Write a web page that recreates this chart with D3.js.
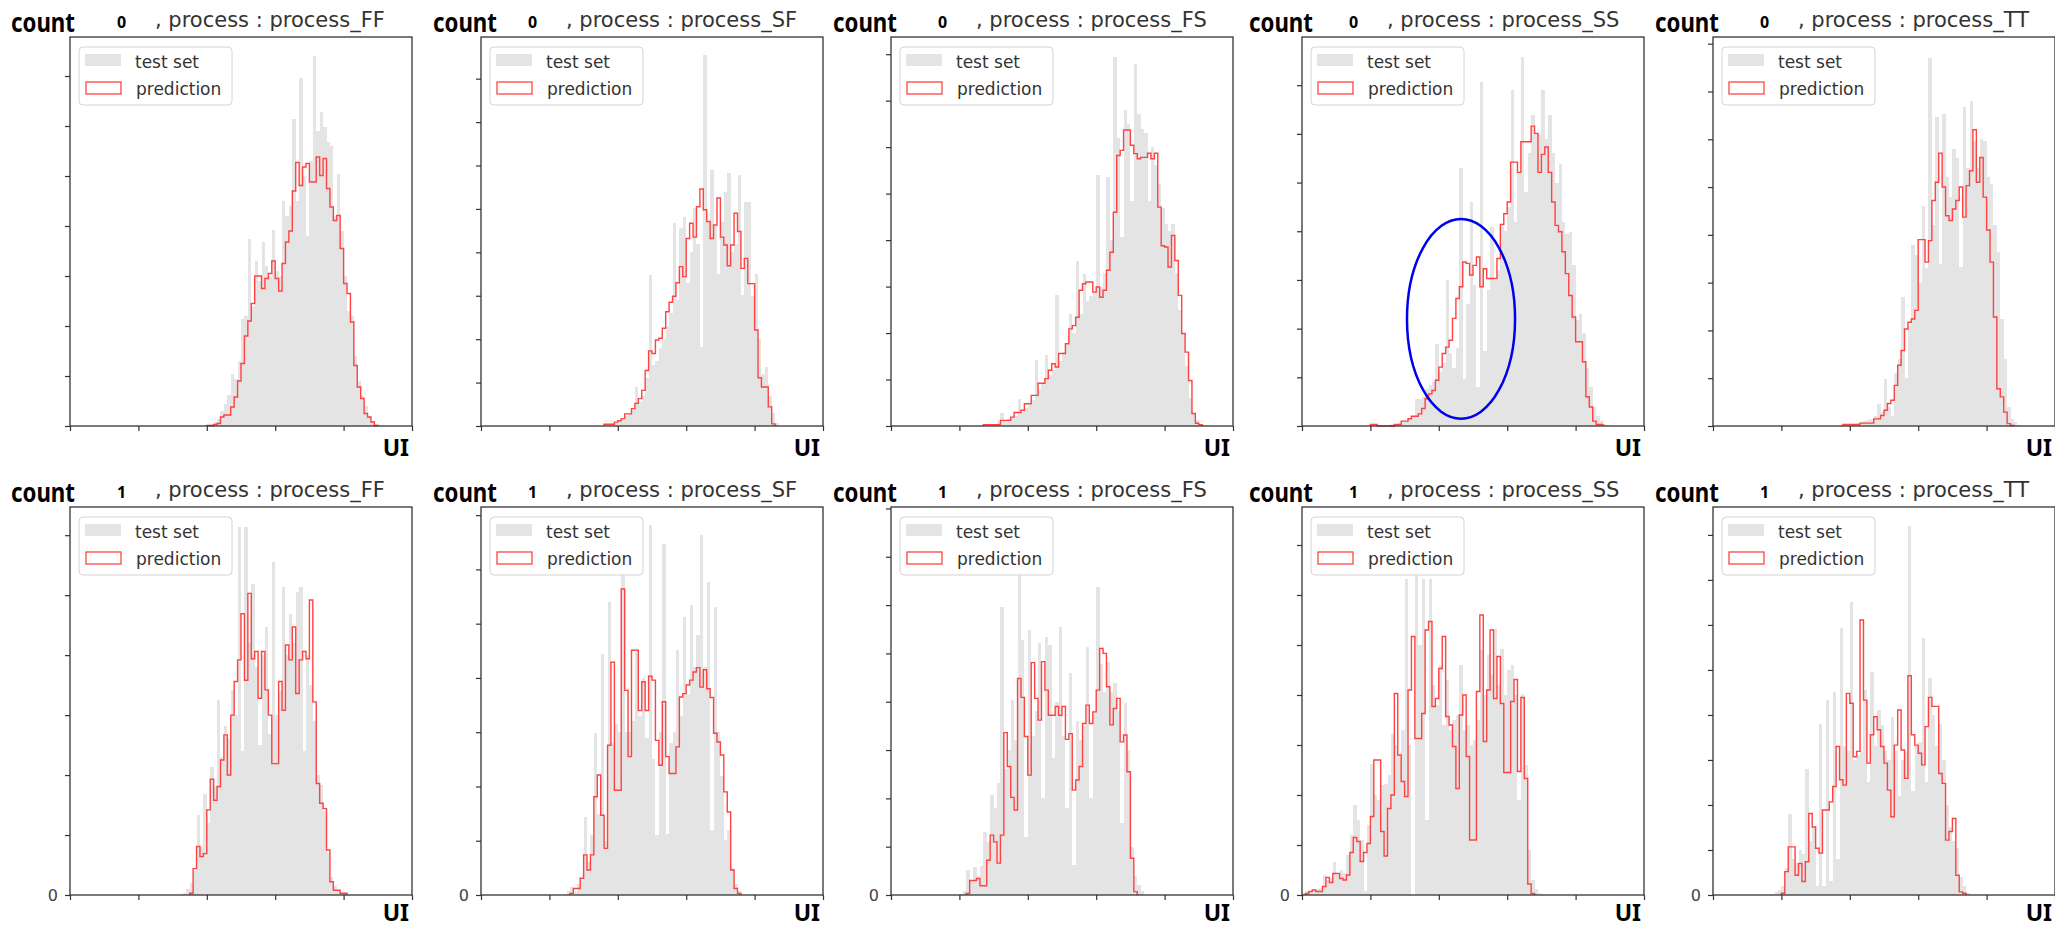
<!doctype html>
<html>
<head>
<meta charset="utf-8">
<script src="https://d3js.org/d3.v7.min.js"></script>
<style>
  body { margin: 0; background: #fff; }
  svg { display: block; }
  .title { font-family: "DejaVu Sans", sans-serif; font-size: 21px; fill: #333; }
  .bold { font-family: "Noto Sans", "Open Sans", sans-serif; font-weight: bold; fill: #000; }
  .legend text { font-family: "DejaVu Sans", sans-serif; font-size: 17px; fill: #333; }
  .axis text { font-family: "DejaVu Sans", sans-serif; font-size: 16px; fill: #444; }
  .axis line { stroke: #333; stroke-width: 1.2; }
</style>
</head>
<body>
<svg width="2055" height="929"></svg>
<script>
// ---------- data (bins on a 0..100 axis, counts on a 100-per-tick scale) ----------
var processes = ["process_FF", "process_SF", "process_FS", "process_SS", "process_TT"];
var countTypes = ["0", "1"];
var xTicks = [0, 20, 40, 60, 80, 100];
var binCount = 100;
var countStep = 100;
var countMax0 = [778, 896, 837, 799, 814];
var countMax1 = [647, 715, 803, 776, 862];

var testStart0 = [40, 36, 26, 20, 36];
var predStart0 = [40, 36, 27, 20, 38];
var testStart1 = [33, 25, 20, 0, 17];
var predStart1 = [35, 26, 22, 1, 20];

// count type 0
var testFF0 = [3,5,8,15,30,45,62,105,95,130,215,220,375,240,330,290,368,320,300,393,310,300,451,420,440,615,450,697,500,380,530,741,590,628,598,568,560,420,505,390,300,230,220,140,90,60,40,20,10,5,2];
var predFF0 = [1,1,3,5,18,22,22,38,58,90,125,180,210,245,300,300,275,295,305,330,295,270,325,368,390,470,527,481,518,525,488,488,538,501,535,475,438,411,421,355,285,265,208,121,78,55,25,18,8,1];
var testSF0 = [2,4,6,8,10,14,22,28,38,90,55,70,110,348,140,150,180,200,230,260,467,290,455,482,330,400,501,420,182,855,470,590,460,351,470,540,582,400,420,578,301,517,517,300,350,200,120,136,70,30,8];
var predSF0 = [4,4,4,9,12,17,28,28,40,52,63,82,128,173,167,198,202,225,263,285,299,330,367,344,432,467,435,505,546,498,471,432,463,525,435,417,369,417,490,448,363,386,328,328,221,111,90,90,44,5];
var testFS0 = [1,2,3,4,5,8,27,10,14,18,22,59,30,38,45,55,141,80,90,152,110,120,281,140,160,175,242,200,356,240,328,270,280,290,539,300,330,535,400,793,620,406,679,650,485,779,672,640,630,485,600,561,520,470,435,420,435,330,250,199,130,60,25,12,5,2];
var predFS0 = [3,3,3,3,3,12,12,12,19,29,29,34,48,48,66,66,92,92,102,120,134,127,156,156,177,209,216,234,292,306,310,310,288,299,277,292,335,374,460,582,593,637,637,604,586,575,578,578,587,575,587,471,388,385,342,410,356,281,199,159,98,27,6,3];
var testSS0 = [2,2,1,1,2,3,4,5,6,8,10,14,20,56,55,60,75,85,90,169,110,130,299,150,120,160,529,97,250,460,290,80,707,155,280,409,300,320,409,400,450,690,420,520,758,480,560,638,600,600,690,590,638,560,500,539,420,395,399,330,217,230,190,120,80,40,20,10,5,2];
var predSS0 = [3,3,0,0,0,0,0,3,3,10,10,15,20,20,25,36,56,66,73,94,121,149,162,176,221,262,286,337,334,310,330,347,286,323,303,303,303,344,414,436,460,542,542,521,584,584,584,616,601,521,558,573,521,460,412,399,358,313,268,224,173,173,132,60,39,10,3,3];
var testTT0 = [1,2,3,3,4,5,6,8,10,12,15,20,47,30,99,40,20,110,140,270,100,210,378,357,300,461,330,771,420,646,340,653,520,480,580,560,332,668,540,681,597,540,600,597,520,507,420,364,224,140,40,15,8,3];
var predTT0 = [3,3,3,3,3,6,6,6,6,15,15,22,33,47,54,85,127,158,203,217,224,242,390,390,343,388,472,510,571,500,440,430,454,472,500,437,503,534,620,510,562,479,410,343,228,78,61,29,5,1];

// count type 1
var testFF1 = [3,10,20,40,133,80,169,120,214,180,325,230,281,260,342,300,614,240,614,420,519,380,250,400,447,269,556,300,340,514,400,469,420,506,514,240,400,350,290,200,183,140,70,30,15,8,4,2];
var predFF1 = [3,44,81,64,69,142,193,158,181,225,267,200,300,356,392,469,358,503,394,406,328,406,342,300,219,219,356,308,417,392,447,336,392,406,394,492,322,186,153,144,75,22,8,8,3,3];
var testSF1 = [8,15,5,20,30,144,60,110,298,150,445,100,540,280,316,300,589,300,300,320,448,330,400,290,681,250,110,300,647,113,280,300,451,330,512,370,534,420,480,663,420,577,120,531,300,220,101,120,50,20,8];
var predSF1 = [3,12,12,31,74,46,74,181,221,147,86,276,429,193,193,564,377,255,451,451,340,393,340,403,396,285,239,356,255,224,224,273,365,371,387,396,411,419,383,415,380,364,298,282,258,190,153,46,12,3];
var testFS1 = [3,8,52,30,58,40,60,131,110,207,180,231,597,260,300,403,320,666,528,120,548,330,380,521,200,534,517,283,400,555,330,180,459,62,360,320,350,514,200,380,638,479,420,483,420,438,380,150,397,300,100,40,20,8];
var predFS1 = [3,30,30,34,19,19,72,124,110,66,124,336,266,202,176,448,409,328,248,481,407,362,483,424,372,372,390,372,390,322,334,217,238,266,355,393,355,379,424,510,500,431,352,386,407,317,331,255,76,7];
var testSS1 = [4,8,6,10,12,15,40,30,35,67,40,50,45,80,120,180,150,110,8,140,263,200,190,220,223,240,323,300,280,330,633,300,0,670,500,633,150,633,420,380,460,340,430,330,350,360,460,330,340,300,310,350,490,400,480,440,533,420,493,400,450,460,400,190,403,260,90,30,12,5,2];
var predSS1 = [3,7,10,7,7,17,35,25,43,43,33,30,40,85,115,107,67,85,103,157,270,270,127,78,173,200,403,280,227,197,410,517,313,313,363,530,547,377,393,453,517,357,340,297,213,360,400,277,110,110,407,560,307,410,530,393,477,383,245,245,387,431,247,395,233,22,3];
var testTT1 = [3,6,10,20,60,181,80,70,100,90,281,120,150,20,381,20,433,30,452,80,593,330,320,652,300,310,320,456,250,496,330,411,378,320,300,396,320,220,300,320,819,230,330,340,570,250,481,400,330,381,300,200,150,120,104,40,20,5];
var predTT1 = [4,52,107,107,44,70,30,74,181,151,104,93,189,189,207,241,330,256,244,448,426,307,319,611,433,293,356,396,367,330,293,233,174,333,411,322,259,487,356,333,315,289,374,439,419,419,270,248,122,141,170,44,7,4];

// highlighted region on the count 0 / process_SS panel (bin, count, radii)
var markBin = 46.5, markCount = 220, markBinR = 15.8, markCountR = 205;

var testSets = [[testFF0, testSF0, testFS0, testSS0, testTT0], [testFF1, testSF1, testFS1, testSS1, testTT1]];
var predSets = [[predFF0, predSF0, predFS0, predSS0, predTT0], [predFF1, predSF1, predFS1, predSS1, predTT1]];
var testStarts = [testStart0, testStart1];
var predStarts = [predStart0, predStart1];
var countMaxes = [countMax0, countMax1];

// ---------- layout ----------
var svg = d3.select("svg");
var panelW = 342;
var colX = [70, 481, 891, 1302, 1713];
var rowTop = [37, 507], rowBottom = [426, 895];
var titleY = [27, 497], uiY = [456, 921];
var countDx = [-59, -48, -58, -53, -58];

function drawPanel(row, col) {
  var left = colX[col], top = rowTop[row], h = rowBottom[row] - top;
  var g = svg.append("g").attr("transform", "translate(" + left + "," + top + ")");

  var x = d3.scaleLinear().domain([0, binCount]).range([0, panelW]);
  var y = d3.scaleLinear().domain([0, countMaxes[row][col]]).range([h, 0]);

  var test = testSets[row][col], tStart = testStarts[row][col];
  var pred = predSets[row][col], pStart = predStarts[row][col];

  // test set: filled bars
  g.append("g").attr("shape-rendering", "crispEdges")
    .selectAll("rect").data(test).enter().append("rect")
    .attr("x", function (d, i) { return x(tStart + i); })
    .attr("width", x(1) - x(0))
    .attr("y", function (d) { return y(d); })
    .attr("height", function (d) { return h - y(d); })
    .attr("fill", "#e4e4e4");

  // prediction: step outline
  var pts = [[pStart, 0]];
  pred.forEach(function (v, i) { pts.push([pStart + i, v]); });
  pts.push([pStart + pred.length, pred[pred.length - 1]]);
  pts.push([pStart + pred.length, 0]);
  var line = d3.line()
    .x(function (d) { return x(d[0]); })
    .y(function (d) { return y(d[1]); })
    .curve(d3.curveStepAfter);
  g.append("path").attr("d", line(pts))
    .attr("fill", "none").attr("stroke", "#ff4242").attr("stroke-width", 1.4);

  // axes
  var yTicks = d3.range(0, countMaxes[row][col], countStep);
  var yAxis = g.append("g").attr("class", "axis")
    .call(d3.axisLeft(y).tickValues(yTicks).tickSize(5).tickSizeOuter(0).tickPadding(7)
      .tickFormat(function (d) { return (row === 1 && d === 0) ? "0" : ""; }));
  yAxis.select(".domain").remove();
  var xAxis = g.append("g").attr("class", "axis").attr("transform", "translate(0," + h + ")")
    .call(d3.axisBottom(x).tickValues(xTicks).tickSize(5).tickSizeOuter(0).tickFormat(""));
  xAxis.select(".domain").remove();

  g.append("rect").attr("width", panelW).attr("height", h)
    .attr("fill", "none").attr("stroke", "#333").attr("stroke-width", 1.3);

  // legend
  var lg = g.append("g").attr("class", "legend").attr("transform", "translate(9,10)");
  lg.append("rect").attr("width", 153).attr("height", 58).attr("rx", 4)
    .attr("fill", "#fff").attr("fill-opacity", 0.85).attr("stroke", "#d4d4d4");
  lg.append("rect").attr("x", 6).attr("y", 7).attr("width", 36).attr("height", 12).attr("fill", "#e4e4e4");
  lg.append("rect").attr("x", 7).attr("y", 35).attr("width", 35).attr("height", 12)
    .attr("fill", "none").attr("stroke", "#ff4242").attr("stroke-width", 1.3);
  lg.append("text").attr("x", 56).attr("y", 21).text("test set");
  lg.append("text").attr("x", 57).attr("y", 48).text("prediction");

  // titles
  svg.append("text").attr("class", "bold").attr("x", left + countDx[col]).attr("y", titleY[row] + 5)
    .attr("font-size", 27).attr("textLength", 64).attr("lengthAdjust", "spacingAndGlyphs").text("count");
  svg.append("text").attr("class", "bold").attr("x", left + 47).attr("y", titleY[row] + 1)
    .attr("font-size", 16).text(countTypes[row]);
  svg.append("text").attr("class", "title").attr("x", left + 85).attr("y", titleY[row])
    .text(", process : " + processes[col]);
  svg.append("text").attr("class", "bold").attr("x", left + panelW - 3).attr("y", uiY[row])
    .attr("text-anchor", "end").attr("font-size", 23).text("UI");

  if (row === 0 && col === 3) {
    g.append("ellipse")
      .attr("cx", x(markBin)).attr("cy", y(markCount))
      .attr("rx", x(markBinR) - x(0)).attr("ry", y(0) - y(markCountR))
      .attr("fill", "none").attr("stroke", "#0000f0").attr("stroke-width", 2.5);
  }
}

for (var r = 0; r < 2; r++) {
  for (var c = 0; c < 5; c++) drawPanel(r, c);
}
</script>
</body>
</html>
